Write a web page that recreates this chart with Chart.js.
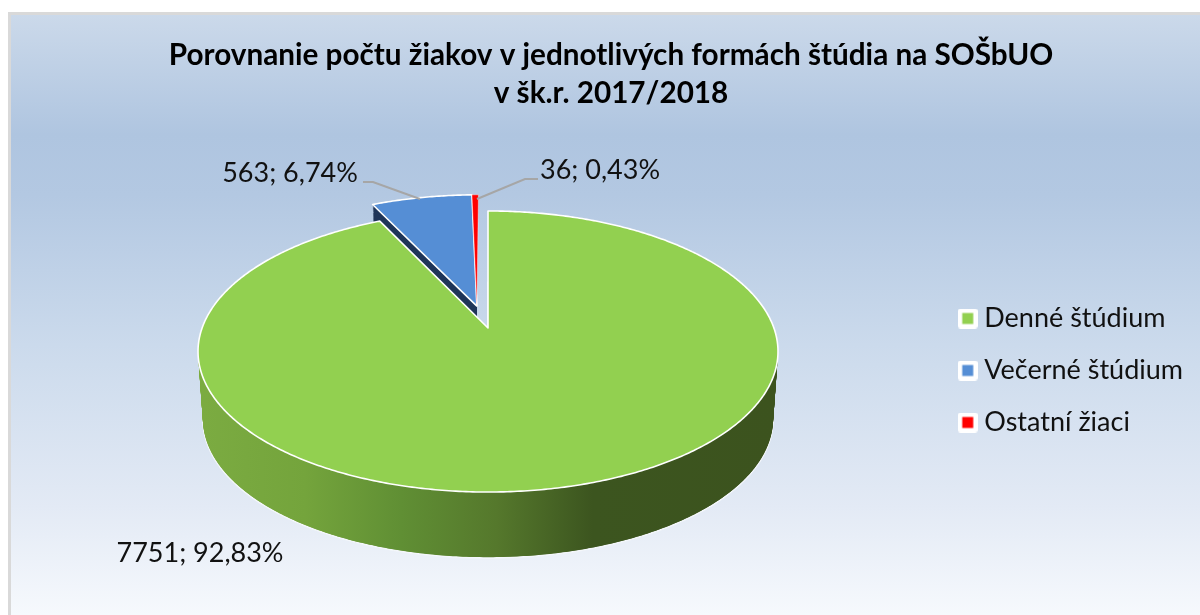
<!DOCTYPE html>
<html><head><meta charset="utf-8">
<style>
html,body{margin:0;padding:0;background:#fff;width:1200px;height:615px;overflow:hidden}
#panel{position:absolute;left:8px;top:12px;width:1192px;height:603px;box-sizing:border-box;border-left:3px solid #d9d9d9;border-top:3px solid #d9d9d9;
background:linear-gradient(to bottom,#cbd9ea 0%,#afc5e0 20%,#b3c8e2 30%,#cbdaec 55%,#e3eaf5 82%,#f6f9fd 100%)}
canvas{position:absolute;left:0;top:0}
</style>
<script src="https://cdn.jsdelivr.net/npm/chart.js@4"></script>
</head><body>
<div id="panel"></div>
<canvas id="c" width="1200" height="615"></canvas>
<script>
const categories = ["Denné štúdium","Večerné štúdium","Ostatní žiaci"];
const pupils = [7751,563,36];
const shares = ["92,83%","6,74%","0,43%"];
const colours = ["#92d050","#558ed5","#ff0000"];
const titleLines = ["Porovnanie počtu žiakov v jednotlivých formách štúdia na SOŠbUO","v šk.r. 2017/2018"];

const FONT = "Lato, Carlito, sans-serif";
// perspective projection of the unit pie disc on to the screen
const top_ = {A:285.9,B:136.6,X:488,Y:328};
const bot_ = {A:281,B:134,X:488,Y:397};
const K = 0.1673;
const DEPTH = 68;
const explode = [[0,0],[-0.04,0.165],[-0.04,0.165]];
function lerpPlane(t){return {A:top_.A+(bot_.A-top_.A)*t,B:top_.B+(bot_.B-top_.B)*t,X:top_.X,Y:top_.Y+(bot_.Y-top_.Y)*t};}
function proj(p,u,v){const w=1+K*v;return [p.X+p.A*u/w,p.Y-p.B*v/w];}
function slicePath(ctx,arc,i,p){
  const e=explode[i];
  const a0=arc.startAngle+Math.PI/2,a1=arc.endAngle+Math.PI/2;
  ctx.beginPath();
  const c=proj(p,e[0],e[1]);ctx.moveTo(c[0],c[1]);
  const n=Math.max(4,Math.ceil((a1-a0)/0.01));
  for(let s=0;s<=n;s++){
    const a=a0+(a1-a0)*s/n;
    const q=proj(p,Math.sin(a)+e[0],Math.cos(a)+e[1]);
    ctx.lineTo(q[0],q[1]);
  }
  ctx.closePath();
}
function sideFill(ctx,i){
  if(i===0){
    const g=ctx.createLinearGradient(198,0,778,0);
    g.addColorStop(0.01,"#7bab41");
    g.addColorStop(0.185,"#74a43c");
    g.addColorStop(0.35,"#608f34");
    g.addColorStop(0.515,"#55782c");
    g.addColorStop(0.68,"#3c551f");
    g.addColorStop(1,"#3c531e");
    return g;
  }
  return "#1f3558";
}
function legendMark(colour){
  const c=document.createElement("canvas");c.width=20;c.height=20;
  const x=c.getContext("2d");
  x.fillStyle="#ffffff";x.beginPath();x.roundRect(0,0,20,20,3);x.fill();
  x.fillStyle=colour;x.fillRect(4.5,4.5,11,11);
  return c;
}
const pie3d={
  id:"pie3d",
  beforeDatasetDraw(chart,args){
    const ctx=chart.ctx,arcs=args.meta.data;
    ctx.save();
    ctx.lineJoin="round";
    [1,2,0].forEach(i=>{
      const arc=arcs[i];
      if(i!==2){
        const fill=sideFill(ctx,i);
        for(let d=DEPTH;d>=0;d--){
          slicePath(ctx,arc,i,lerpPlane(d/DEPTH));
          ctx.fillStyle=fill;ctx.fill();
          if(d===DEPTH){ctx.strokeStyle="#f4f7fb";ctx.lineWidth=1.5;ctx.stroke();}
        }
      }
      slicePath(ctx,arc,i,top_);
      ctx.fillStyle=colours[i];ctx.fill();
      ctx.strokeStyle="#ffffff";ctx.lineWidth=i===2?0.4:1.6;ctx.stroke();
    });
    ctx.restore();
    return false;
  },
  afterDatasetsDraw(chart){
    const ctx=chart.ctx;
    ctx.save();
    ctx.strokeStyle="#a6a6a6";ctx.lineWidth=2;
    [[[363,182],[373,182],[420,199]],[[477,199],[525,179],[538,179]]].forEach(l=>{
      ctx.beginPath();ctx.moveTo(l[0][0],l[0][1]);ctx.lineTo(l[1][0],l[1][1]);ctx.lineTo(l[2][0],l[2][1]);ctx.stroke();
    });
    ctx.fillStyle="#111111";ctx.font="27px "+FONT;ctx.textBaseline="middle";ctx.textAlign="center";
    const spots=[[200,553],[290,173],[600,170]];
    pupils.forEach((v,i)=>ctx.fillText(v+"; "+shares[i],spots[i][0],spots[i][1]));
    ctx.restore();
  }
};
new Chart(document.getElementById("c"),{
  type:"pie",
  data:{labels:categories,datasets:[{data:pupils,backgroundColor:colours,borderColor:"#fff",borderWidth:1}]},
  plugins:[pie3d],
  options:{
    responsive:false,animation:false,
    layout:{padding:{left:29,right:7,top:36,bottom:-90}},
    plugins:{
      tooltip:{enabled:false},
      title:{display:true,text:titleLines,color:"#000",font:{family:FONT,size:29.7,weight:"bold",lineHeight:1.29},padding:{top:0,bottom:15}},
      legend:{position:"right",align:"center",
        labels:{color:"#111111",font:{family:FONT,size:27},usePointStyle:true,boxWidth:6,boxHeight:6,padding:25,
          generateLabels(chart){return chart.data.labels.map((t,i)=>({text:t,fillStyle:colours[i],strokeStyle:"#ffffff",lineWidth:0,fontColor:"#111111",pointStyle:legendMark(colours[i]),index:i}));}
        }}
    }
  }
});
</script>
</body></html>
